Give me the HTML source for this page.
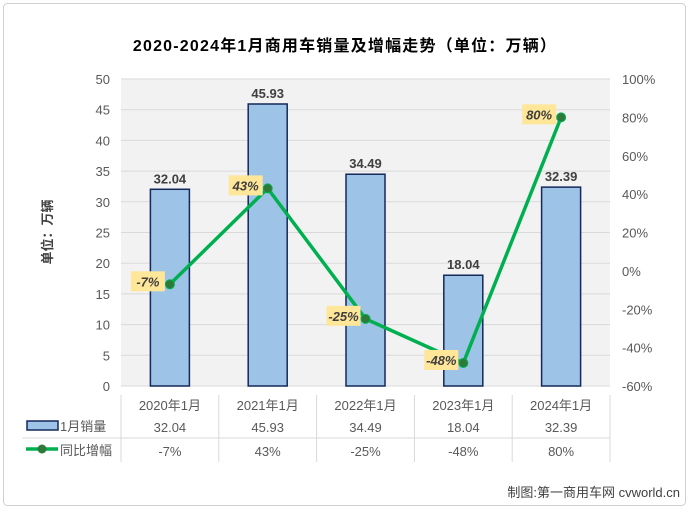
<!DOCTYPE html>
<html><head><meta charset="utf-8"><style>
body{margin:0;background:#fff;font-family:"Liberation Sans","Noto Sans CJK SC",sans-serif;}
svg text{font-family:"Liberation Sans","Noto Sans CJK SC",sans-serif;}
</style></head><body>
<svg width="689" height="509" xmlns="http://www.w3.org/2000/svg">
<rect x="3.5" y="3.5" width="682" height="502" rx="4" fill="#fff" stroke="#d0d0d0"/>
<text x="345" y="51" text-anchor="middle" font-size="16" font-weight="bold" fill="#000" letter-spacing="1.2">2020-2024年1月商用车销量及增幅走势（单位：万辆）</text>
<rect x="121" y="79" width="489" height="307" fill="#f2f2f2"/>
<g id="grid"></g><g id="axes"></g><g id="bars"></g><g id="line"></g><g id="table"></g>
<text transform="translate(52,232) rotate(-90)" text-anchor="middle" font-size="13" font-weight="bold" fill="#404040">单位：万辆</text>
<text x="680" y="497" text-anchor="end" font-size="13" fill="#404040">制图:第一商用车网 cvworld.cn</text>
</svg>
<script>
const categories=["2020年1月","2021年1月","2022年1月","2023年1月","2024年1月"];
const sales=[32.04,45.93,34.49,18.04,32.39];
const growth=[-7,43,-25,-48,80];
const leftTicks=[0,5,10,15,20,25,30,35,40,45,50];
const rightTicks=[-60,-40,-20,0,20,40,60,80,100];
const NS="http://www.w3.org/2000/svg";
const L=121,R=610,T=79,B=386,cw=(R-L)/categories.length;
const yL=v=>B-(v/50)*(B-T);
const yR=v=>B-((v+60)/160)*(B-T);
const xC=i=>L+cw*(i+0.5);
function mk(p,tag,a,txt){const e=document.createElementNS(NS,tag);for(const k in a)e.setAttribute(k,a[k]);if(txt!==undefined)e.textContent=txt;p.appendChild(e);return e;}
const grid=document.getElementById('grid'),axes=document.getElementById('axes'),bars=document.getElementById('bars'),line=document.getElementById('line'),table=document.getElementById('table');
leftTicks.forEach(v=>{
 const g=mk(grid,'line',{x1:L,x2:R,y1:yL(v),y2:yL(v),stroke:'#d9d9d9','stroke-width':1});
 
 
 const t=mk(axes,'text',{x:110,y:yL(v)+5,'text-anchor':'end','font-size':13,fill:'#595959'},String(v));
 
 
});
rightTicks.forEach(v=>{
 const t=mk(axes,'text',{x:622,y:yR(v)+5,'font-size':13,fill:'#595959'},v+'%');
 
 
});
sales.forEach((v,i)=>{
 const r=mk(bars,'rect',{x:xC(i)-19.5,y:yL(v),width:39,height:B-yL(v),fill:'#9dc3e6',stroke:'#14285a','stroke-width':1.5});
 
 
 const t=mk(bars,'text',{x:xC(i),y:yL(v)-6,'text-anchor':'middle','font-size':13,'font-weight':'bold',fill:'#404040'},v.toFixed(2));
 
 
});
const pts=growth.map((v,i)=>xC(i)+','+yR(v)).join(' ');
const pl=mk(line,'polyline',{points:pts,fill:'none',stroke:'#00b050','stroke-width':3.5});


growth.forEach((v,i)=>{
 const c=mk(line,'circle',{cx:xC(i),cy:yR(v),r:4.5,fill:'#2f7a3a',stroke:'#00b050','stroke-width':1});
 
 
 const lx=xC(i)-22,ly=yR(v)-2;
 const bx=mk(line,'rect',{x:lx-17,y:ly-11,width:34,height:20,fill:'#ffe699'});
 
 
 const t=mk(line,'text',{x:lx,y:ly+4,'text-anchor':'middle','font-size':13,'font-weight':'bold','font-style':'italic',fill:'#404040'},v+'%');
 
 
});
mk(table,'line',{x1:22,x2:R,y1:438,y2:438,stroke:'#d9d9d9'});
for(let i=0;i<=categories.length;i++){mk(table,'line',{x1:L+cw*i,x2:L+cw*i,y1:395,y2:462,stroke:'#d9d9d9'});}
categories.forEach((c,i)=>{
 const a=mk(table,'text',{x:xC(i),y:410,'text-anchor':'middle','font-size':13,fill:'#595959'},c);
 
 
 const b=mk(table,'text',{x:xC(i),y:432,'text-anchor':'middle','font-size':13,fill:'#595959'},sales[i].toFixed(2));
 
 
 const d=mk(table,'text',{x:xC(i),y:456,'text-anchor':'middle','font-size':13,fill:'#595959'},growth[i]+'%');
 
 
});
const lg1=mk(table,'rect',{x:27,y:421,width:31,height:9,fill:'#9dc3e6',stroke:'#14285a','stroke-width':1.5});


const lt1=mk(table,'text',{x:60,y:431,'font-size':13,fill:'#595959'},'1月销量');


const lg2=mk(table,'line',{x1:26,x2:58,y1:449,y2:449,stroke:'#00b050','stroke-width':3.5});


mk(table,'circle',{cx:42,cy:449,r:4.5,fill:'#2f7a3a'});
const lt2=mk(table,'text',{x:60,y:455,'font-size':13,fill:'#595959'},'同比增幅');


</script>
</body></html>
